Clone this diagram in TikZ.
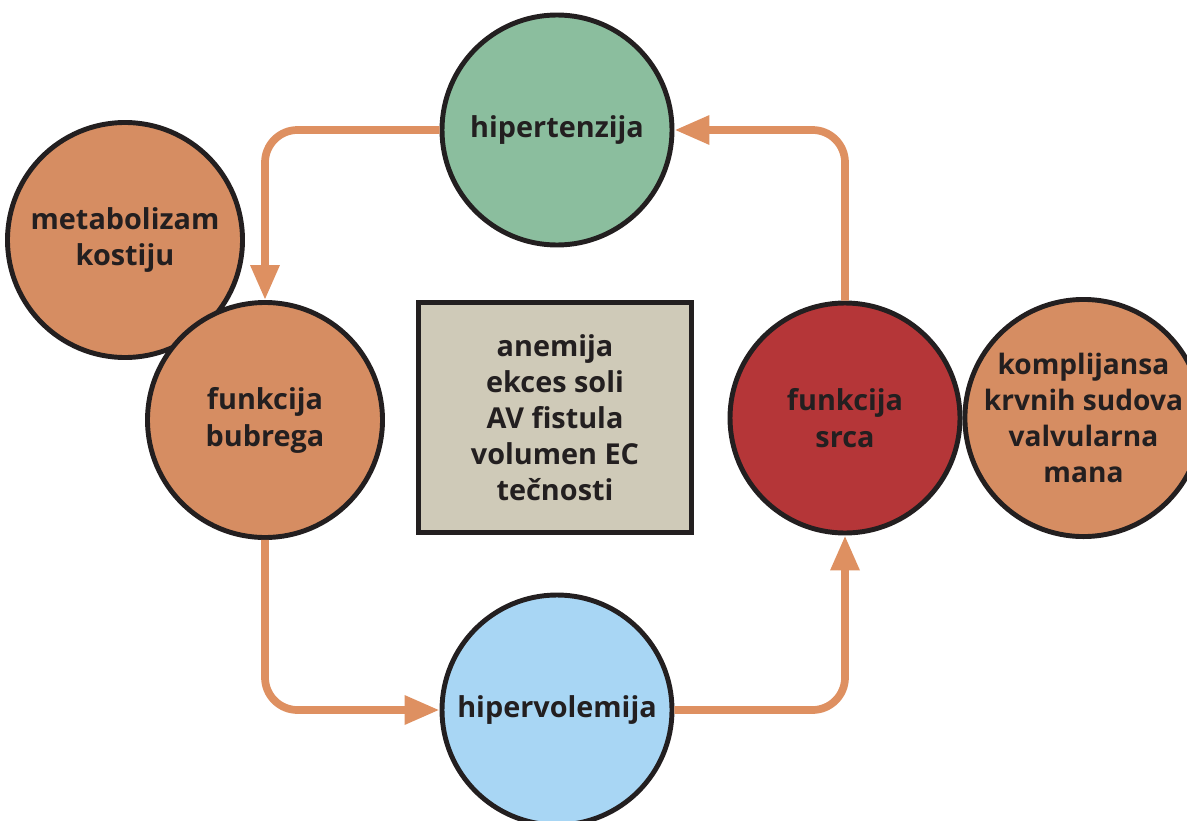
\documentclass[tikz,border=0pt]{standalone}
\usepackage{fontspec}
\setmainfont{Open Sans}
\usetikzlibrary{arrows.meta,positioning}
\definecolor{tamna}{HTML}{231F20}
\definecolor{narandza}{HTML}{D68D62}
\definecolor{strelica}{HTML}{DE9061}
\definecolor{zelena}{HTML}{8BBE9E}
\definecolor{plava}{HTML}{A8D6F4}
\definecolor{crvena}{HTML}{B53638}
\definecolor{bez}{HTML}{CFCAB8}
\begin{document}
\begin{tikzpicture}[line width=2.8pt,
    krug/.style = {draw=tamna, circle, inner sep=0pt, minimum size=4.6cm, align=center,
                   text=tamna, font=\bfseries\fontsize{16.4}{21}\selectfont},
    kutija/.style = {draw=tamna, fill=bez, inner sep=0pt, minimum width=5.45cm, minimum height=4.6cm,
                   align=center, text=tamna, font=\bfseries\fontsize{16.4}{20.5}\selectfont},
    tok/.style = {draw=strelica, line width=4.4pt, rounded corners=0.65cm,
                  -{Triangle[width=0.55cm,length=0.7cm]}}]
    \useasboundingbox (0,0) rectangle (23.74,-16.4);
    % Crtaj cvorove
    \node[krug, fill=narandza, minimum size=4.7cm] (kost) at (2.5,-4.8) {metabolizam\\kostiju};
    \node[krug, fill=narandza, minimum size=4.7cm] (bubreg) at (5.3,-8.4) {funkcija\\bubrega};
    \node[krug, fill=zelena] (hiper) at (11.14,-2.6) {hipertenzija};
    \node[krug, fill=plava] (volem) at (11.14,-14.2) {hipervolemija};
    \node[krug, fill=crvena] (srce) at (16.9,-8.36) {funkcija\\srca};
    \node[krug, fill=narandza, minimum size=4.5cm, font=\bfseries\fontsize{16}{20.5}\selectfont] (kompl) [right=0pt of srce] {komplijansa\\krvnih sudova\\valvularna\\mana};
    \node[kutija] (faktori) at (11.1,-8.35) {anemija\\ekces soli\\AV fistula\\volumen EC\\tečnosti};
    % Crtaj strelice
    \draw[tok] (hiper.west) -| (bubreg.north);
    \draw[tok] (bubreg.south) |- (volem.west);
    \draw[tok] (volem.east) -| (srce.south);
    \draw[tok] (srce.north) |- (hiper.east);
\end{tikzpicture}
\end{document}
